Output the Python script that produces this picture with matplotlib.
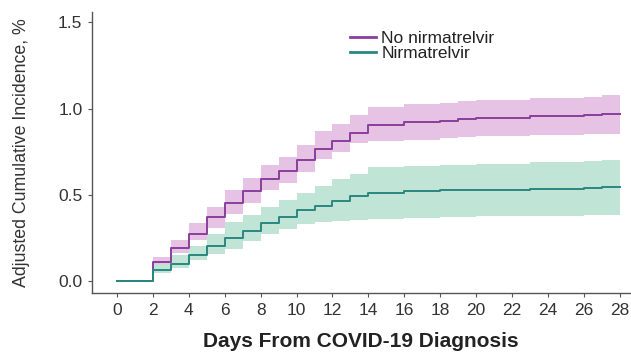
import matplotlib
matplotlib.use("Agg")
import matplotlib.pyplot as plt
from matplotlib.lines import Line2D

# Event times (days) and adjusted cumulative incidence (%) with 95% CI
days = [0, 2, 3, 4, 5, 6, 7, 8, 9, 10, 11, 12, 13, 14, 16, 18, 19, 20, 23, 26, 27, 28]

no_nirm = [0, 0.11, 0.19, 0.27, 0.37, 0.455, 0.52, 0.59, 0.64, 0.70, 0.765, 0.81, 0.86,
           0.905, 0.92, 0.93, 0.94, 0.945, 0.955, 0.962, 0.968, 0.968]
no_nirm_lo = [0, 0.09, 0.16, 0.24, 0.31, 0.39, 0.455, 0.525, 0.57, 0.63, 0.71, 0.75, 0.80,
              0.81, 0.82, 0.83, 0.835, 0.84, 0.845, 0.85, 0.855, 0.855]
no_nirm_hi = [0, 0.14, 0.24, 0.335, 0.43, 0.53, 0.60, 0.67, 0.72, 0.79, 0.87, 0.91, 0.96,
              1.01, 1.025, 1.035, 1.045, 1.05, 1.06, 1.07, 1.08, 1.08]

nirm = [0, 0.065, 0.10, 0.15, 0.20, 0.25, 0.29, 0.335, 0.37, 0.41, 0.435, 0.465, 0.49,
        0.51, 0.52, 0.525, 0.528, 0.53, 0.535, 0.54, 0.545, 0.545]
nirm_lo = [0, 0.045, 0.075, 0.12, 0.155, 0.185, 0.23, 0.27, 0.30, 0.33, 0.34, 0.35, 0.355,
           0.36, 0.365, 0.37, 0.372, 0.375, 0.378, 0.38, 0.385, 0.385]
nirm_hi = [0, 0.10, 0.15, 0.20, 0.27, 0.34, 0.385, 0.43, 0.47, 0.51, 0.55, 0.59, 0.62,
           0.66, 0.665, 0.67, 0.675, 0.68, 0.69, 0.695, 0.70, 0.70]

series_labels = ["No nirmatrelvir", "Nirmatrelvir"]
x_ticks = list(range(0, 29, 2))
y_ticks = [0.0, 0.5, 1.0, 1.5]

purple_line, purple_band = "#8a3f9c", "#e6c2e4"
teal_line, teal_band = "#2a8780", "#bde3d3"
axis_grey = "#555555"
text_grey = "#333333"
sans = ["Liberation Sans", "DejaVu Sans"]

fig = plt.figure(figsize=(6.31, 3.56), dpi=100)
ax = fig.add_axes([0.146, 0.177, 0.852, 0.789])

ax.fill_between(days, no_nirm_lo, no_nirm_hi, step="post", color=purple_band, lw=0, zorder=1)
ax.fill_between(days, nirm_lo, nirm_hi, step="post", color=teal_band, lw=0, alpha=0.95, zorder=2)
ax.step(days, no_nirm, where="post", color=purple_line, lw=1.4, zorder=3)
ax.step(days, nirm, where="post", color=teal_line, lw=1.4, zorder=4)

ax.set_xlim(-1.39, 28.56)
ax.set_ylim(-0.07, 1.56)
ax.set_xticks(x_ticks)
ax.set_yticks(y_ticks)
ax.set_yticklabels([f"{v:.1f}" for v in y_ticks])

for side in ("top", "right"):
    ax.spines[side].set_visible(False)
for side in ("left", "bottom"):
    ax.spines[side].set_color(axis_grey)
    ax.spines[side].set_linewidth(1.0)

ax.tick_params(axis="both", colors=axis_grey, length=3, width=0.8, labelsize=12.5,
               labelcolor=text_grey, pad=4)
for lab in ax.get_xticklabels() + ax.get_yticklabels():
    lab.set_family(sans)

ax.set_xlabel("Days From COVID-19 Diagnosis", fontsize=15, fontweight="bold",
              color="#222222", family=sans, labelpad=10)
ax.set_ylabel("Adjusted Cumulative Incidence, %", fontsize=12.8, color="#333333",
              family=sans, labelpad=20)

handles = [Line2D([], [], color=purple_line, lw=2),
           Line2D([], [], color=teal_line, lw=2)]
leg = ax.legend(handles, series_labels, loc="upper left", bbox_to_anchor=(0.457, 0.978),
                frameon=False, handlelength=1.5, handletextpad=0.3, labelspacing=0.0,
                borderpad=0.2, prop={"family": sans, "size": 12.5})
for t in leg.get_texts():
    t.set_color("#222222")

fig.savefig("out.png", dpi=100)
